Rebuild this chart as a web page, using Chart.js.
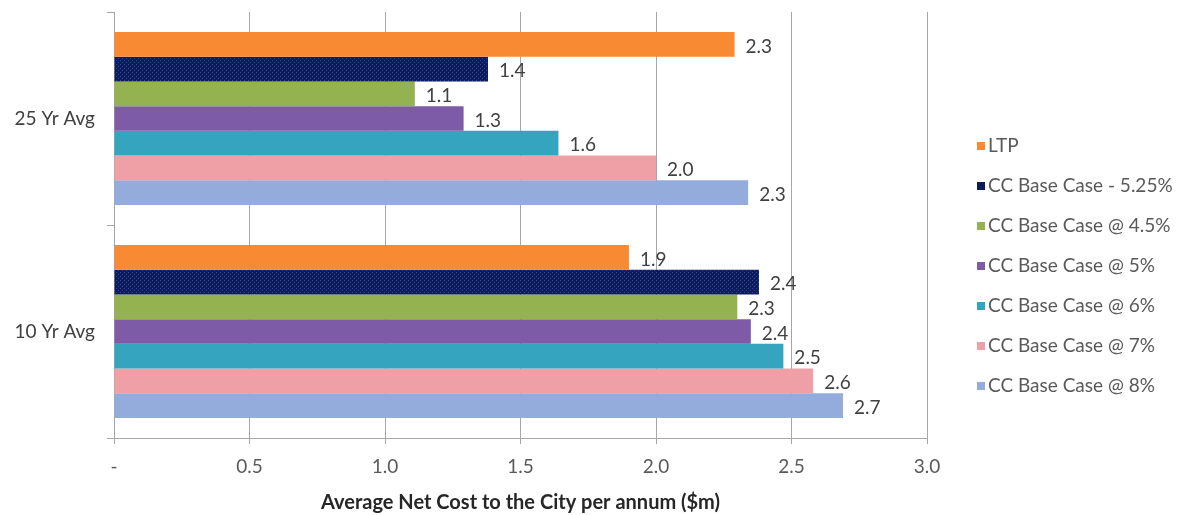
<!DOCTYPE html>
<html>
<head>
<meta charset="utf-8">
<script src="https://cdn.jsdelivr.net/npm/chart.js@4/dist/chart.umd.min.js"></script>
<style>
  html, body { margin: 0; padding: 0; background: #fff; }
  #wrap { position: relative; width: 1197px; height: 515px; }
  #cost-chart-legend { position: absolute; left: 977px; top: 133px; font-family: Lato, sans-serif; font-size: 19px; color: #595959; }
  #cost-chart-legend ul { list-style: none; margin: 0; padding: 0; }
  #cost-chart-legend li { height: 40px; line-height: 24px; white-space: nowrap; }
  #cost-chart-legend span { display: inline-block; width: 8px; height: 8px; margin-right: 3px; vertical-align: 2px; }
</style>
</head>
<body>
<div id="wrap">
  <canvas id="cost-chart" width="1197" height="515"></canvas>
  <div id="cost-chart-legend"></div>
</div>
<script>
  // Categories and series
  const categories = ['25 Yr Avg', '10 Yr Avg'];
  const seriesNames = ['LTP', 'CC Base Case - 5.25%', 'CC Base Case @ 4.5%', 'CC Base Case @ 5%',
    'CC Base Case @ 6%', 'CC Base Case @ 7%', 'CC Base Case @ 8%'];
  const ltp = [2.29, 1.90];
  const base525 = [1.38, 2.38];
  const base45 = [1.11, 2.30];
  const base5 = [1.29, 2.35];
  const base6 = [1.64, 2.47];
  const base7 = [2.00, 2.58];
  const base8 = [2.34, 2.69];
  const xTicks = [0, 0.5, 1.0, 1.5, 2.0, 2.5, 3.0];

  const ctx = document.getElementById('cost-chart');

  // dotted fill for the 5.25% series
  function dotPattern() {
    const c = document.createElement('canvas');
    c.width = 4; c.height = 4;
    const g = c.getContext('2d');
    g.fillStyle = '#0c1c5c';
    g.fillRect(0, 0, 4, 4);
    g.fillStyle = '#33478f';
    g.fillRect(0, 0, 1, 1);
    g.fillRect(2, 2, 1, 1);
    return ctx.getContext('2d').createPattern(c, 'repeat');
  }

  const swatches = ['#f78a33', '#0c1c5c', '#95b251', '#7e5ba6', '#35a4bf', '#eea0a6', '#93acdb'];
  const colours = swatches.slice();
  colours[1] = dotPattern();
  const values = [ltp, base525, base45, base5, base6, base7, base8];

  const datasets = seriesNames.map((name, i) => ({
    label: name,
    data: values[i],
    backgroundColor: colours[i],
    borderWidth: 0,
    barPercentage: 1.0,
    categoryPercentage: 0.812
  }));

  // value labels at the end of each bar
  const barLabels = {
    id: 'barLabels',
    afterDatasetsDraw(chart) {
      const c = chart.ctx;
      c.save();
      c.font = '19px Lato';
      c.fillStyle = '#404040';
      c.textBaseline = 'middle';
      c.textAlign = 'left';
      chart.data.datasets.forEach((ds, i) => {
        chart.getDatasetMeta(i).data.forEach((bar, j) => {
          c.fillText(ds.data[j].toFixed(1), bar.x + 11, bar.y + 2);
        });
      });
      c.restore();
    }
  };

  new Chart(ctx, {
    type: 'bar',
    data: { labels: categories, datasets: datasets },
    options: {
      indexAxis: 'y',
      responsive: false,
      animation: false,
      layout: { padding: { top: 12, right: 270, left: 0, bottom: 0 } },
      scales: {
        x: {
          min: 0,
          max: 3,
          afterBuildTicks: (axis) => { axis.ticks = xTicks.map(v => ({ value: v })); },
          afterFit: (axis) => { axis.height = 77; },
          grid: { color: '#a6a6a6', tickLength: 6, tickColor: '#a6a6a6' },
          border: { color: '#a6a6a6' },
          ticks: {
            color: '#595959',
            font: { family: 'Lato', size: 19 },
            padding: 11,
            callback: (v) => v === 0 ? '-' : Number(v).toFixed(1)
          },
          title: {
            display: true,
            text: 'Average Net Cost to the City per annum ($m)',
            color: '#262626',
            font: { family: 'Lato', size: 20, weight: 'bold' },
            padding: { top: 4, bottom: 0 }
          }
        },
        y: {
          afterFit: (axis) => {
            axis.width = 114;
            axis.paddingTop = 0;
            axis.paddingBottom = 0;
          },
          grid: { drawOnChartArea: false, tickLength: 7, color: '#a6a6a6' },
          border: { color: '#a6a6a6' },
          ticks: {
            color: '#404040',
            font: { family: 'Lato', size: 19 },
            padding: 12
          }
        }
      },
      plugins: {
        legend: { display: false },
        tooltip: { enabled: false }
      }
    },
    plugins: [barLabels]
  });

  // legend list beside the plot
  const ul = document.createElement('ul');
  seriesNames.forEach((name, i) => {
    ul.innerHTML += `<li><span style="background-color: ${swatches[i]}"></span>${name}</li>`;
  });
  document.getElementById('cost-chart-legend').appendChild(ul);
</script>
</body>
</html>
